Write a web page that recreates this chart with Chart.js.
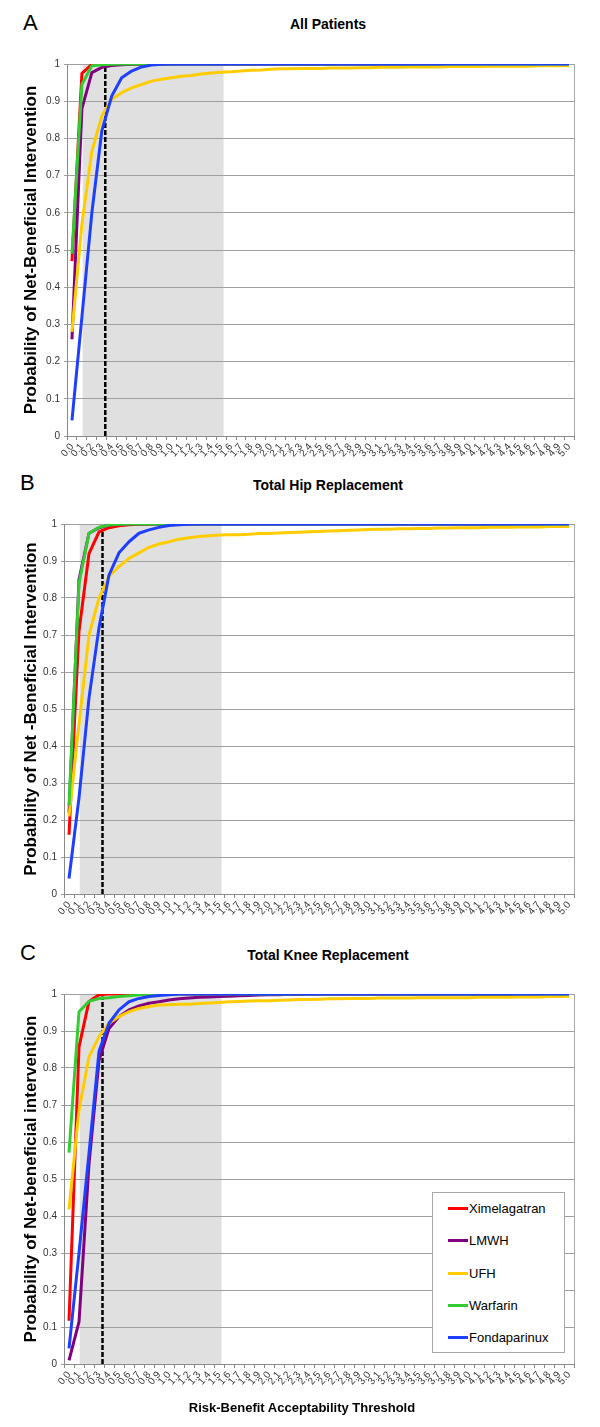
<!DOCTYPE html>
<html>
<head>
<meta charset="utf-8">
<title>Net-beneficial intervention curves</title>
<script src="https://cdn.jsdelivr.net/npm/chart.js@4/dist/chart.umd.min.js"></script>
<style>
  body { margin: 0; background: #fff; font-family: Arial, "Liberation Sans", sans-serif; color: #000; }
  #page { position: relative; width: 600px; height: 1427px; overflow: hidden; }
  .panel { position: absolute; left: 0; width: 600px; }
  .letter { position: absolute; font-size: 22px; line-height: 22px; }
  .ptitle { position: absolute; font-size: 14px; font-weight: bold; line-height: 16px; white-space: nowrap; transform: translateX(-50%); }
  #xtitle { position: absolute; font-size: 13px; font-weight: bold; line-height: 16px; white-space: nowrap; transform: translateX(-50%); }
  #legend { position: absolute; left: 432px; top: 1192px; width: 131px; height: 159px; border: 1px solid #a8a8a8; background: #fff; }
  .li { position: absolute; left: 15px; height: 16px; font-size: 13px; line-height: 16px; white-space: nowrap; }
  .li i { display: inline-block; width: 20px; height: 3px; vertical-align: middle; margin-right: 1px; position: relative; top: -1px; }
</style>
</head>
<body>
<div id="page">
  <div class="letter" style="left:23px;top:12px">A</div>
  <div class="ptitle" id="title-a" style="left:328px;top:16px"></div>
  <div class="panel" style="top:0;height:470px"><canvas id="chartA"></canvas></div>

  <div class="letter" style="left:20px;top:472px">B</div>
  <div class="ptitle" id="title-b" style="left:328px;top:477px"></div>
  <div class="panel" style="top:470px;height:470px"><canvas id="chartB"></canvas></div>

  <div class="letter" style="left:20px;top:942px">C</div>
  <div class="ptitle" id="title-c" style="left:328px;top:947px"></div>
  <div class="panel" style="top:940px;height:487px"><canvas id="chartC"></canvas></div>

  <div id="xtitle" style="left:302px;top:1400px"></div>
  <div id="legend"></div>
</div>

<script>
// ── DATA ──────────────────────────────────────────
const thresholds = ['0.0','0.1','0.2','0.3','0.4','0.5','0.6','0.7','0.8','0.9',
  '1.0','1.1','1.2','1.3','1.4','1.5','1.6','1.7','1.8','1.9',
  '2.0','2.1','2.2','2.3','2.4','2.5','2.6','2.7','2.8','2.9',
  '3.0','3.1','3.2','3.3','3.4','3.5','3.6','3.7','3.8','3.9',
  '4.0','4.1','4.2','4.3','4.4','4.5','4.6','4.7','4.8','4.9','5.0'];
const thresholdStep = 0.1;

const seriesNames  = ['Ximelagatran', 'LMWH', 'UFH', 'Warfarin', 'Fondaparinux'];
const seriesColors = ['#ff0000', '#800080', '#ffcc00', '#33cc33', '#1f3fff'];

const panelTitles  = ['All Patients', 'Total Hip Replacement', 'Total Knee Replacement'];
const yTitles      = ['Probability of Net-Beneficial Intervention',
                      'Probability of Net -Beneficial Intervention',
                      'Probability of Net-beneficial intervention'];
const xTitle       = 'Risk-Benefit Acceptability Threshold';

// shaded acceptability band and the dashed cut-off, in threshold units
const bandFrom = 0.107, bandTo = 1.525;
const cutoff = 0.335;
const cutoffTops = [0.994, 0.98, 0.993];

// A: All patients
const ximA  = [0.47,0.975,0.999,1,1,1,1,1,1,1, 1,1,1,1,1,1,1,1,1,1, 1,1,1,1,1,1,1,1,1,1, 1,1,1,1,1,1,1,1,1,1, 1,1,1,1,1,1,1,1,1,1, 1];
const lmwhA = [0.26,0.88,0.977,0.991,0.996,0.998,0.999,1,1,1, 1,1,1,1,1,1,1,1,1,1, 1,1,1,1,1,1,1,1,1,1, 1,1,1,1,1,1,1,1,1,1, 1,1,1,1,1,1,1,1,1,1, 1];
const ufhA  = [0.28,0.57,0.765,0.86,0.905,0.923,0.936,0.945,0.954,0.959,
               0.963,0.967,0.969,0.973,0.976,0.978,0.979,0.981,0.983,0.984,
               0.986,0.987,0.987,0.988,0.988,0.988,0.989,0.989,0.989,0.990,
               0.990,0.991,0.991,0.991,0.992,0.992,0.992,0.992,0.993,0.993,
               0.993,0.993,0.994,0.994,0.994,0.994,0.994,0.995,0.995,0.995, 0.995];
const warfA = [0.49,0.945,0.995,0.998,0.999,1,1,1,1,1, 1,1,1,1,1,1,1,1,1,1, 1,1,1,1,1,1,1,1,1,1, 1,1,1,1,1,1,1,1,1,1, 1,1,1,1,1,1,1,1,1,1, 1];
const fondA = [0.042,0.32,0.60,0.82,0.914,0.963,0.981,0.992,0.997,0.999, 1,1,1,1,1,1,1,1,1,1, 1,1,1,1,1,1,1,1,1,1, 1,1,1,1,1,1,1,1,1,1, 1,1,1,1,1,1,1,1,1,1, 1];

// B: Total hip replacement
const ximB  = [0.16,0.71,0.92,0.979,0.99,0.995,0.998,0.999,1,1, 1,1,1,1,1,1,1,1,1,1, 1,1,1,1,1,1,1,1,1,1, 1,1,1,1,1,1,1,1,1,1, 1,1,1,1,1,1,1,1,1,1, 1];
const lmwhB = [0.22,0.85,0.975,0.99,0.997,0.999,1,1,1,1, 1,1,1,1,1,1,1,1,1,1, 1,1,1,1,1,1,1,1,1,1, 1,1,1,1,1,1,1,1,1,1, 1,1,1,1,1,1,1,1,1,1, 1];
const ufhB  = [0.21,0.46,0.70,0.80,0.858,0.885,0.907,0.922,0.937,0.946,
               0.952,0.959,0.963,0.966,0.968,0.970,0.971,0.971,0.972,0.974,
               0.974,0.976,0.977,0.978,0.979,0.980,0.981,0.982,0.983,0.984,
               0.985,0.986,0.986,0.987,0.987,0.988,0.988,0.989,0.989,0.990,
               0.990,0.990,0.991,0.991,0.991,0.992,0.992,0.992,0.993,0.993, 0.993];
const warfB = [0.24,0.84,0.975,0.991,0.997,0.999,1,1,1,1, 1,1,1,1,1,1,1,1,1,1, 1,1,1,1,1,1,1,1,1,1, 1,1,1,1,1,1,1,1,1,1, 1,1,1,1,1,1,1,1,1,1, 1];
const fondB = [0.042,0.26,0.53,0.72,0.862,0.922,0.952,0.975,0.984,0.991, 0.996,0.998,0.999,1,1,1,1,1,1,1, 1,1,1,1,1,1,1,1,1,1, 1,1,1,1,1,1,1,1,1,1, 1,1,1,1,1,1,1,1,1,1, 1];

// C: Total knee replacement
const ximC  = [0.117,0.857,0.98,0.998,1,1,1,1,1,1, 1,1,1,1,1,1,1,1,1,1, 1,1,1,1,1,1,1,1,1,1, 1,1,1,1,1,1,1,1,1,1, 1,1,1,1,1,1,1,1,1,1, 1];
const lmwhC = [0.01,0.114,0.54,0.82,0.907,0.939,0.957,0.968,0.975,0.979,
               0.984,0.987,0.989,0.991,0.992,0.993,0.994,0.995,0.996,0.997,
               0.998,0.998,0.999,0.999,1,1,1,1,1,1, 1,1,1,1,1,1,1,1,1,1, 1,1,1,1,1,1,1,1,1,1, 1];
const ufhC  = [0.418,0.686,0.83,0.885,0.921,0.939,0.952,0.961,0.966,0.970,
               0.971,0.972,0.972,0.974,0.976,0.977,0.979,0.980,0.981,0.982,
               0.982,0.983,0.984,0.985,0.985,0.986,0.987,0.987,0.988,0.988,
               0.988,0.989,0.989,0.989,0.989,0.990,0.990,0.990,0.990,0.990,
               0.990,0.991,0.991,0.991,0.991,0.992,0.992,0.992,0.993,0.993, 0.994];
const warfC = [0.571,0.952,0.98,0.988,0.99,0.993,0.995,0.998,1,1, 1,1,1,1,1,1,1,1,1,1, 1,1,1,1,1,1,1,1,1,1, 1,1,1,1,1,1,1,1,1,1, 1,1,1,1,1,1,1,1,1,1, 1];
const fondC = [0.042,0.30,0.57,0.845,0.921,0.957,0.979,0.988,0.993,0.996, 0.998,1,1,1,1,1,1,1,1,1, 1,1,1,1,1,1,1,1,1,1, 1,1,1,1,1,1,1,1,1,1, 1,1,1,1,1,1,1,1,1,1, 1];

const panelSeries = [
  [ximA, lmwhA, ufhA, warfA, fondA],
  [ximB, lmwhB, ufhB, warfB, fondB],
  [ximC, lmwhC, ufhC, warfC, fondC]
];

// ── LAYOUT (pixels inside each panel canvas) ──────
const panels = [
  { id: 'chartA', plotTop: 64, plotLeft: 67, xAxisH: 34 },
  { id: 'chartB', plotTop: 54, plotLeft: 64, xAxisH: 46 },
  { id: 'chartC', plotTop: 54, plotLeft: 64, xAxisH: 63 }
];

Chart.defaults.font.family = 'Arial, "Liberation Sans", sans-serif';
Chart.defaults.color = '#333';

// grey band, dashed cut-off line, plot-area right border
const bandPlugin = {
  id: 'band',
  beforeDraw(chart, args, opts) {
    const { ctx, chartArea: a, scales: { x } } = chart;
    const x0 = x.getPixelForValue(bandFrom / thresholdStep);
    const x1 = x.getPixelForValue(bandTo / thresholdStep);
    ctx.save();
    ctx.fillStyle = '#e0e0e0';
    ctx.fillRect(x0, a.top, x1 - x0, a.bottom - a.top);
    ctx.restore();
  },
  beforeDatasetsDraw(chart, args, opts) {
    const { ctx, chartArea: a, scales: { x, y } } = chart;
    const cx = x.getPixelForValue(cutoff / thresholdStep);
    ctx.save();
    ctx.strokeStyle = '#a8a8a8';
    ctx.lineWidth = 1;
    ctx.beginPath();
    ctx.moveTo(Math.round(a.right) + 0.5, a.top);
    ctx.lineTo(Math.round(a.right) + 0.5, a.bottom);
    ctx.stroke();
    ctx.strokeStyle = '#000';
    ctx.lineWidth = 2.5;
    ctx.setLineDash([5, 2]);
    ctx.beginPath();
    ctx.moveTo(cx, y.getPixelForValue(0));
    ctx.lineTo(cx, y.getPixelForValue(opts.top));
    ctx.stroke();
    ctx.restore();
  }
};

function buildPanel(p, i) {
  document.getElementById(['title-a', 'title-b', 'title-c'][i]).textContent = panelTitles[i];
  new Chart(document.getElementById(p.id), {
    type: 'line',
    data: {
      labels: thresholds,
      datasets: panelSeries[i].map((vals, k) => ({
        label: seriesNames[k],
        data: vals,
        borderColor: seriesColors[k],
        backgroundColor: seriesColors[k],
        borderWidth: 3,
        pointRadius: 0,
        tension: 0,
        borderJoinStyle: 'round',
        order: seriesNames.length - k   // later series on top, like the original
      }))
    },
    options: {
      responsive: true,
      maintainAspectRatio: false,
      animation: false,
      layout: { padding: { top: p.plotTop, right: 26, left: 0, bottom: 0 } },
      plugins: { legend: { display: false }, tooltip: { enabled: false }, band: { top: cutoffTops[i] } },
      scales: {
        x: {
          type: 'category',
          offset: true,
          grid: { offset: true, drawOnChartArea: false, drawTicks: true, tickLength: 4, color: '#8a8a8a' },
          border: { color: '#8a8a8a' },
          ticks: { autoSkip: false, minRotation: 50, maxRotation: 50, padding: 1, font: { size: 10 }, color: '#333' },
          afterFit(s) { s.height = p.xAxisH; }
        },
        y: {
          min: 0, max: 1,
          ticks: {
            stepSize: 0.1, padding: 4, font: { size: 10 }, color: '#333',
            callback: v => String(+v.toFixed(1))
          },
          grid: { color: '#a0a0a0', tickLength: 3 },
          border: { color: '#8a8a8a' },
          title: { display: true, text: yTitles[i], color: '#000', font: { size: 17, weight: 'bold' }, padding: { top: 21, bottom: 0 } },
          afterFit(s) { s.width = p.plotLeft; }
        }
      }
    },
    plugins: [bandPlugin]
  });
}

panels.forEach(buildPanel);

document.getElementById('xtitle').textContent = xTitle;

// legend (panel C only)
const legend = document.getElementById('legend');
legend.innerHTML = seriesNames.map((n, k) =>
  `<div class="li" style="top:${8 + k * 32.3}px"><i style="background:${seriesColors[k]}"></i>${n}</div>`
).join('');
</script>
</body>
</html>
